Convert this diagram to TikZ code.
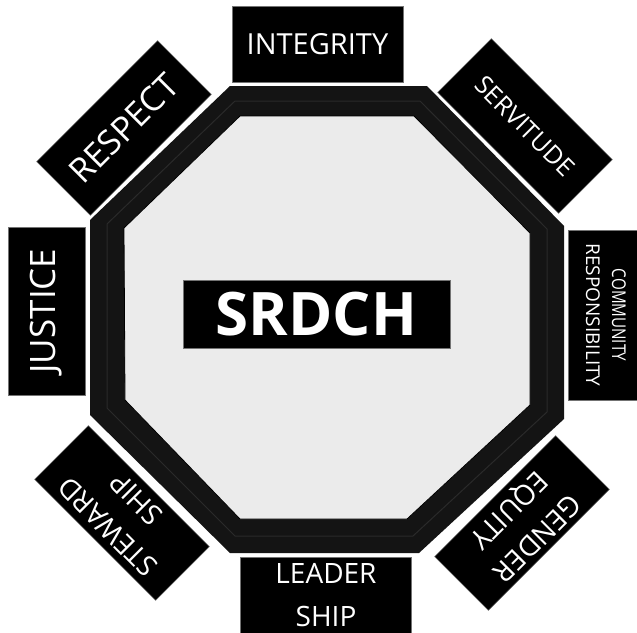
\documentclass[tikz,border=0pt]{standalone}
\usepackage{fontspec}
\setmainfont{Open Sans}
\definecolor{framecol}{HTML}{141414}
\definecolor{bevel}{HTML}{2A2A2A}
\definecolor{innergray}{HTML}{EBEBEB}
\newcommand\lblfs[2]{\fontsize{#1}{#2}\selectfont}
\begin{document}
\begin{tikzpicture}[x=1pt,y=-1pt]
\tikzset{
  lbl/.style={fill=black, draw=black!55, line width=0.5pt, text=white,
    inner sep=0pt, minimum width=171pt, minimum height=76pt, align=center},
}
\useasboundingbox (0,0) rectangle (637,632);
\fill[white] (0,0) rectangle (637,632);
% octagon frame
\path[fill=framecol] (230,86) -- (427,86) -- (564,226) -- (564,419) -- (419,553)
  -- (230,553) -- (90,415) -- (90,220) -- cycle;
\path[draw=bevel, line width=1pt] (235,101) -- (420,101) -- (547,229) -- (547,412)
  -- (413,536) -- (235,536) -- (107,408) -- (107,224) -- cycle;
\path[fill=innergray, draw=black, line width=0.8pt] (240,116) -- (414,116) -- (530,233)
  -- (530,405) -- (407,519) -- (240,519) -- (125,400) -- (124,228) -- cycle;
% centre
\node[lbl, font=\lblfs{60}{60}\bfseries, minimum width=267pt, minimum height=68pt]
  (core) at (316.5,314) {SRDCH};
% labels
\node[lbl, font=\lblfs{29}{35}] (integrity) at (317.5,44) {INTEGRITY};
\node[lbl, font=\lblfs{28}{43}] (leader) at (326,595) {LEADER\\SHIP};
\node[lbl, rotate=90, minimum width=168pt, minimum height=77pt, font=\lblfs{35}{40}]
  (justice) at (46.5,311) {JUSTICE};
\node[lbl, rotate=-90, minimum width=170pt, font=\lblfs{19}{26}]
  (community) at (606,315) {\scalebox{0.8}[1]{COMMUNITY}\\RESPONSIBILITY};
\node[lbl, rotate=45, font=\lblfs{34}{40}] (respect) at (124,128) {RESPECT};
\node[lbl, rotate=-45, font=\lblfs{25}{30}] (servitude) at (525,126) {SERVITUDE};
\node[lbl, rotate=135, font=\lblfs{28}{40}] (steward) at (122,513) {STEWARD\\SHIP};
\node[lbl, rotate=-135, font=\lblfs{28}{40}] (gender) at (522,523) {GENDER\\EQUITY};
\end{tikzpicture}
\end{document}
